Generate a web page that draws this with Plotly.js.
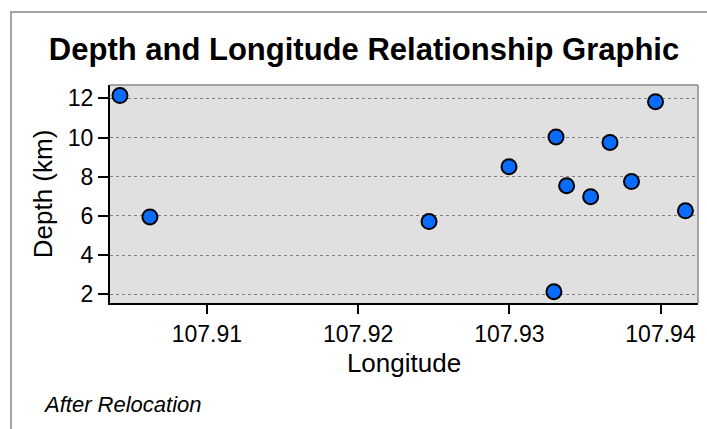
<!DOCTYPE html>
<html>
<head>
<meta charset="utf-8">
<script src="https://cdn.plot.ly/plotly-3.0.1.min.js"></script>
<style>
  html, body { margin: 0; padding: 0; background: #ffffff; }
  #chart { width: 707px; height: 429px; }
</style>
</head>
<body>
<div id="chart"></div>
<script>
// Earthquake hypocentres after relocation: longitude (deg E) vs depth (km)
const longitude = [107.90425, 107.90623, 107.92469, 107.92998, 107.93295, 107.93309,
                   107.93379, 107.93538, 107.93666, 107.93808, 107.93967, 107.94165];
const depthKm   = [12.14, 5.95, 5.71, 8.51, 2.13, 10.03,
                   7.54, 6.98, 9.75, 7.75, 11.83, 6.26];
const xTicks = [107.91, 107.92, 107.93, 107.94];
const yTicks = [2, 4, 6, 8, 10, 12];

const FONT = '"Liberation Sans", Arial, Helvetica, sans-serif';

const trace = {
  type: 'scatter',
  mode: 'markers',
  x: longitude,
  y: depthKm,
  marker: {
    symbol: 'circle',
    size: 15,
    color: '#0a6cff',
    line: { color: '#000000', width: 2 }
  },
  hoverinfo: 'x+y'
};

const layout = {
  width: 707,
  height: 429,
  margin: { l: 110, r: 9, t: 85, b: 126, pad: 0 },
  paper_bgcolor: '#ffffff',
  plot_bgcolor: '#e0e0e0',
  showlegend: false,
  font: { family: FONT, color: '#000000', size: 23 },
  title: {
    text: '<b>Depth and Longitude Relationship Graphic</b>',
    font: { family: FONT, size: 31, color: '#000000' },
    xref: 'container', yref: 'container',
    x: 364 / 707, xanchor: 'center',
    y: 1 - 49.5 / 429, yanchor: 'middle'
  },
  xaxis: {
    range: [107.90359, 107.94248],
    tickvals: xTicks,
    ticktext: xTicks.map(v => v.toFixed(2)),
    ticks: 'outside', ticklen: 9, tickwidth: 2, tickcolor: '#000000',
    showgrid: false, zeroline: false,
    showline: true, linecolor: '#000000', linewidth: 2,
    tickfont: { family: FONT, size: 23, color: '#000000' },
    automargin: true,
    title: { text: 'Longitude', font: { family: FONT, size: 26, color: '#000000' }, standoff: 8 }
  },
  yaxis: {
    range: [1.556, 12.68],
    tickvals: yTicks,
    ticks: 'outside', ticklen: 10, tickwidth: 2, tickcolor: '#000000',
    showgrid: true, gridcolor: '#808080', gridwidth: 1, griddash: 'dot',
    zeroline: false,
    showline: true, linecolor: '#000000', linewidth: 2,
    tickfont: { family: FONT, size: 23, color: '#000000' },
    automargin: true,
    title: { text: 'Depth (km)', font: { family: FONT, size: 26, color: '#000000' }, standoff: 8 }
  },
  shapes: [
    // light frame around the whole graphic
    { type: 'rect', xref: 'paper', yref: 'paper',
      x0: (11 - 110) / 588, x1: (720 - 110) / 588,
      y0: (303 - 440) / 218, y1: (303 - 12) / 218,
      line: { color: '#a4a4a4', width: 2 }, fillcolor: 'rgba(0,0,0,0)', layer: 'below' },
    // grey top and right edges of the plotting area
    { type: 'line', xref: 'paper', yref: 'paper', x0: 0, x1: 1, y0: 1, y1: 1,
      line: { color: '#8a8a8a', width: 1.5 }, layer: 'above' },
    { type: 'line', xref: 'paper', yref: 'paper', x0: 1, x1: 1, y0: 0, y1: 1,
      line: { color: '#8a8a8a', width: 1.5 }, layer: 'above' }
  ],
  annotations: [
    { text: '<i>After Relocation</i>', xref: 'paper', yref: 'paper',
      x: (40.7 - 110) / 588, xanchor: 'left',
      y: (303 - 404) / 218, yanchor: 'middle',
      showarrow: false, font: { family: FONT, size: 22, color: '#000000' } }
  ]
};

Plotly.newPlot('chart', [trace], layout, { displayModeBar: false, staticPlot: true });
</script>
</body>
</html>
